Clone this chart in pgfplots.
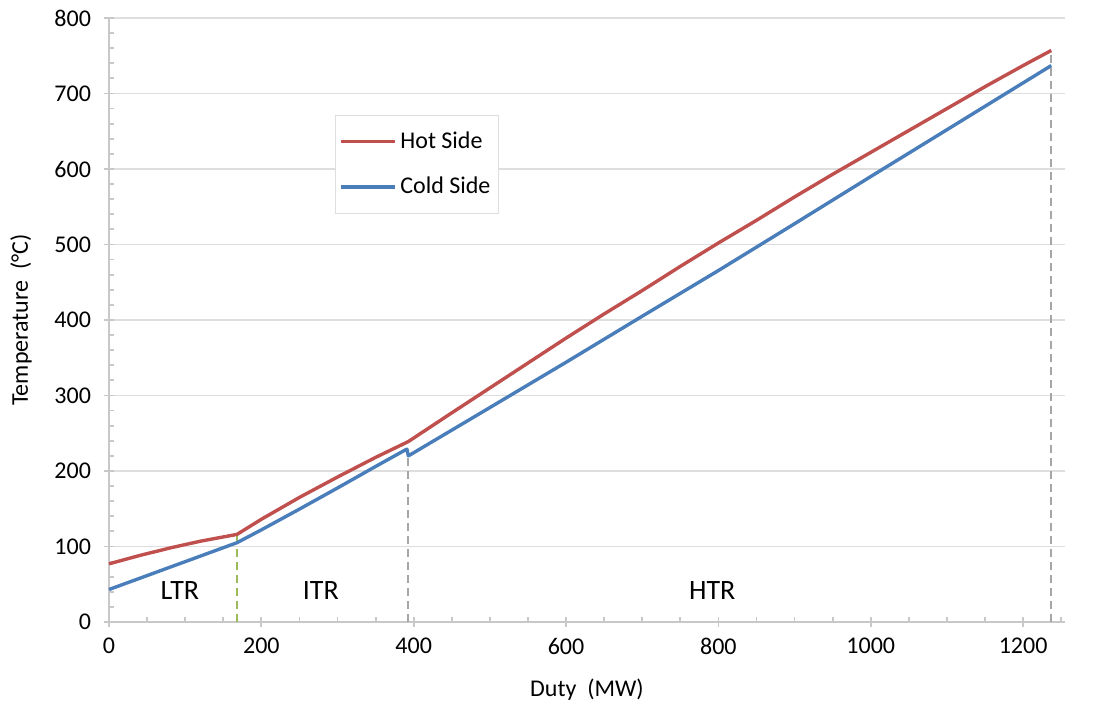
\documentclass[border=0pt]{standalone}
\usepackage{fontspec}
\setmainfont{Carlito}
\usepackage{pgfplots}
\pgfplotsset{compat=1.18}
\definecolor{hotred}{HTML}{C0504D}
\definecolor{coldblue}{HTML}{4A7EBB}
\definecolor{ltrgreen}{HTML}{9BBB59}
\definecolor{divgray}{HTML}{A6A6A6}
\definecolor{gridgray}{HTML}{DEDEDE}
\definecolor{axgray}{HTML}{C8C8C8}

\begin{document}
\begin{tikzpicture}
\begin{axis}[
  scale only axis, width=478pt, height=302pt,
  xmin=0, xmax=1255, ymin=0, ymax=800,
  axis x line*=bottom, axis y line*=left,
  axis line style={axgray, line width=0.9pt},
  xtick={0,200,...,1200}, ytick={0,100,...,800},
  minor xtick={0,50,...,1250}, minor ytick={0,20,...,800},
  tick align=center, major tick length=5pt, minor tick length=2.5pt,
  tick style={axgray, line width=0.9pt},
  minor x tick style={yshift=1.25pt}, minor y tick style={xshift=1.25pt},
  ymajorgrids, grid style={gridgray, line width=0.7pt},
  ticklabel style={font=\fontsize{12}{14}\selectfont},
  /pgf/number format/assume math mode=true,
  /pgf/number format/1000 sep={},
  xticklabel style={yshift=-2pt},
  yticklabel style={xshift=-3pt},
  xlabel={Duty\ \ (MW)},
  ylabel={Temperature\ \ (°C)},
  label style={font=\fontsize{12}{14}\selectfont},
  xlabel style={at={(axis description cs:0.5,-0.1126)}, anchor=center},
  ylabel style={at={(axis description cs:-0.092,0.5)}, anchor=center},
  legend style={at={(axis description cs:0.236,0.839)}, anchor=north west,
    draw=gridgray, fill=white, font=\fontsize{12}{14}\selectfont,
    inner xsep=2pt, inner ysep=6pt, row sep=9pt, cells={anchor=west}},
  legend image code/.code={\draw[#1] (0pt,0pt) -- (27pt,0pt);},
  clip=false,
]
% section boundaries
\addplot[forget plot, ltrgreen, line width=1pt, dash pattern=on 4pt off 2.5pt]
  coordinates {(168,0) (168,116)};
\addplot[forget plot, divgray, line width=1pt, dash pattern=on 4pt off 2.5pt]
  coordinates {(393,0) (393,229)};
\addplot[forget plot, divgray, line width=1pt, dash pattern=on 4pt off 2.5pt]
  coordinates {(1237,0) (1237,757)};

\addplot[hotred, line width=1.7pt, line join=round] coordinates {
  (0,77) (40,88) (80,98) (120,107) (168,116)
  (200,136) (250,165) (300,192) (350,218) (393,239)
  (450,277) (500,310) (550,343) (600,376) (650,408) (700,439)
  (750,471) (800,502) (850,532) (900,563) (950,593) (1000,622)
  (1050,651) (1100,680) (1150,709) (1200,737) (1237,757)
};
\addlegendentry{Hot Side}
\addplot[coldblue, line width=1.7pt, line join=round] coordinates {
  (0,43) (84,74) (168,105)
  (200,122) (250,149.5) (300,177.5) (350,206) (391,229) (393,220)
  (500,284) (600,344) (700,405) (800,465.5) (900,527.5) (1000,590)
  (1100,652) (1237,737)
};
\addlegendentry{Cold Side}

\node[font=\fontsize{14}{16}\selectfont] at (axis cs:93,42) {LTR};
\node[font=\fontsize{14}{16}\selectfont] at (axis cs:278,42) {ITR};
\node[font=\fontsize{14}{16}\selectfont] at (axis cs:792,42) {HTR};
\end{axis}
\path (current axis.south west) ++(-54.5pt,-40pt)
  rectangle ([shift={(15pt,9pt)}]current axis.north east);
\end{tikzpicture}
\end{document}
